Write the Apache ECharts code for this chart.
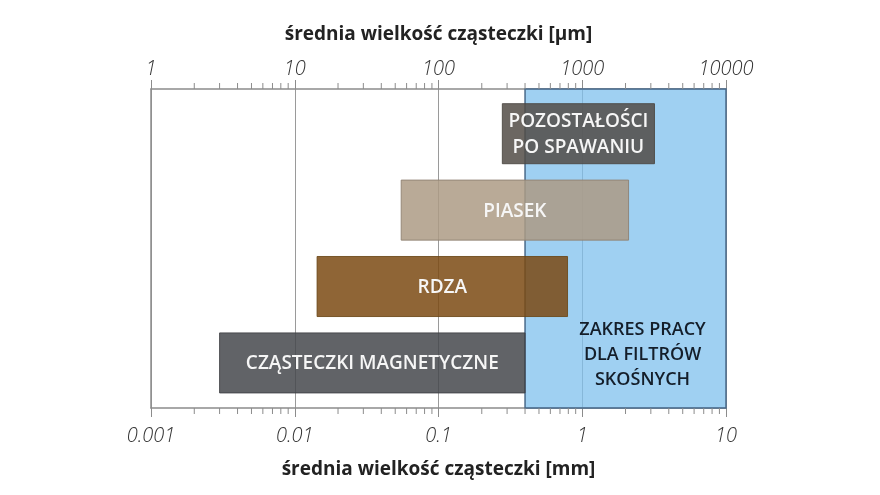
<!DOCTYPE html>
<html>
<head>
<meta charset="utf-8">
<script src="https://cdn.jsdelivr.net/npm/echarts@6/dist/echarts.min.js"></script>
<style>
  html, body { margin: 0; padding: 0; background: #fff; }
  #chart { width: 880px; height: 495px; }
</style>
</head>
<body>
<div id="chart"></div>
<script>
// particle types, bottom to top
const categories = ['CZĄSTECZKI MAGNETYCZNE', 'RDZA', 'PIASEK', 'POZOSTAŁOŚCI\nPO SPAWANIU'];
// size range in mm
const rangeMin = [0.003, 0.0143, 0.055, 0.278];
const rangeMax = [0.4, 0.79, 2.1, 3.18];
const barColors = ['#45484c', '#7b4a13', '#ad9b85', '#524c47'];
const barBorders = ['#3e4043', '#6a4515', '#8c7e6e', '#4a4541'];

// working range of the filters, mm
const workRange = [0.4, 10];
const workLabel = 'ZAKRES PRACY\nDLA FILTRÓW\nSKOŚNYCH';

const bottomLabels = ['0.001', '0.01', '0.1', '1', '10'];
const topLabels = ['1', '10', '100', '1000', '10000'];
const minorTicks = [
  0.002, 0.003, 0.004, 0.005, 0.006, 0.007, 0.008, 0.009,
  0.02, 0.03, 0.04, 0.05, 0.06, 0.07, 0.08, 0.09,
  0.2, 0.3, 0.4, 0.5, 0.6, 0.7, 0.8, 0.9,
  2, 3, 4, 5, 6, 7, 8, 9
];

const Y_MIN = -0.59, Y_MAX = 3.585, HALF = 0.393;
const GRAY = '#8c8c8c';

const chart = echarts.init(document.getElementById('chart'));

const labelStyle = {
  fontFamily: 'Open Sans',
  fontStyle: 'italic',
  fontWeight: 300,
  fontSize: 20,
  color: '#333'
};
const nameStyle = {
  fontFamily: 'Open Sans',
  fontWeight: 700,
  fontSize: 19,
  color: '#222'
};

chart.setOption({
  animation: false,
  grid: { left: 151, right: 154, top: 89, bottom: 87 },
  xAxis: [
    {
      type: 'log', position: 'bottom', min: 0.001, max: 10, logBase: 10,
      name: 'średnia wielkość cząsteczki [mm]', nameLocation: 'middle', nameGap: 52,
      nameTextStyle: nameStyle,
      axisLine: { show: true, onZero: false, lineStyle: { color: GRAY, width: 1.5 } },
      axisTick: { show: true, length: 9, lineStyle: { color: GRAY, width: 1 } },
      minorTick: { show: false },
      axisLabel: Object.assign({ margin: 18, showMinLabel: true, showMaxLabel: true,
        formatter: (v, i) => bottomLabels[i] }, labelStyle),
      splitLine: { show: true, showMinLine: true, showMaxLine: true, lineStyle: { color: '#9a9a9a', width: 1 } }
    },
    {
      type: 'log', position: 'top', min: 1, max: 10000, logBase: 10,
      name: 'średnia wielkość cząsteczki [µm]', nameLocation: 'middle', nameGap: 45,
      nameTextStyle: nameStyle,
      axisLine: { show: true, onZero: false, lineStyle: { color: GRAY, width: 1.5 } },
      axisTick: { show: true, length: 9, lineStyle: { color: GRAY, width: 1 } },
      axisLabel: Object.assign({ margin: 10, showMinLabel: true, showMaxLabel: true,
        formatter: (v, i) => topLabels[i] }, labelStyle),
      splitLine: { show: false }
    }
  ],
  yAxis: {
    type: 'value', min: Y_MIN, max: Y_MAX,
    axisLine: { show: true, onZero: false, lineStyle: { color: GRAY, width: 1.5 } },
    axisTick: { show: false },
    axisLabel: { show: false },
    splitLine: { show: false }
  },
  series: [
    {
      type: 'custom',
      xAxisIndex: 0, yAxisIndex: 0,
      z: 1,
      silent: true,
      data: [[workRange[0], workRange[1]]],
      encode: { x: [0, 1] },
      renderItem: (params, api) => {
        const p0 = api.coord([api.value(0), Y_MAX]);
        const p1 = api.coord([api.value(1), Y_MIN]);
        const cx = (p0[0] + p1[0]) / 2 + 17;
        const cy = api.coord([workRange[0], 0.1])[1];
        return {
          type: 'group',
          children: [
            {
              type: 'rect',
              shape: { x: p0[0], y: p0[1], width: p1[0] - p0[0], height: p1[1] - p0[1] },
              style: { fill: 'rgba(127,192,238,0.75)', stroke: '#4a6a8a', lineWidth: 1.5 }
            },
            {
              type: 'text',
              style: {
                text: workLabel, x: cx, y: cy, align: 'center', verticalAlign: 'middle',
                fill: '#141e2a', font: '600 18px "Open Sans"', lineHeight: 25
              }
            }
          ]
        };
      }
    },
    {
      type: 'custom',
      xAxisIndex: 0, yAxisIndex: 0,
      z: 3,
      silent: true,
      data: categories.map((c, i) => [i, rangeMin[i], rangeMax[i]]),
      encode: { x: [1, 2], y: 0 },
      renderItem: (params, api) => {
        const i = api.value(0);
        const p0 = api.coord([api.value(1), i + HALF]);
        const p1 = api.coord([api.value(2), i - HALF]);
        return {
          type: 'group',
          children: [
            {
              type: 'rect',
              shape: { x: p0[0], y: p0[1], width: p1[0] - p0[0], height: p1[1] - p0[1] },
              style: { fill: barColors[i], stroke: barBorders[i], lineWidth: 1, opacity: 0.85 }
            },
            {
              type: 'text',
              style: {
                text: categories[i], x: (p0[0] + p1[0]) / 2, y: (p0[1] + p1[1]) / 2 + 1,
                align: 'center', verticalAlign: 'middle',
                fill: '#f6f6f6', font: '600 19px "Open Sans"', lineHeight: 26
              }
            }
          ]
        };
      }
    },
    {
      type: 'custom',
      xAxisIndex: 0, yAxisIndex: 0,
      z: 4,
      silent: true,
      clip: false,
      data: minorTicks.map(v => [v, Y_MIN]),
      encode: { x: 0, y: 1 },
      renderItem: (params, api) => {
        const b = api.coord([api.value(0), Y_MIN]);
        const t = api.coord([api.value(0), Y_MAX]);
        const st = { stroke: GRAY, lineWidth: 1 };
        return {
          type: 'group',
          children: [
            { type: 'line', shape: { x1: b[0], y1: b[1], x2: b[0], y2: b[1] + 6 }, style: st },
            { type: 'line', shape: { x1: t[0], y1: t[1], x2: t[0], y2: t[1] - 6 }, style: st }
          ]
        };
      }
    }
  ]
});
</script>
</body>
</html>
